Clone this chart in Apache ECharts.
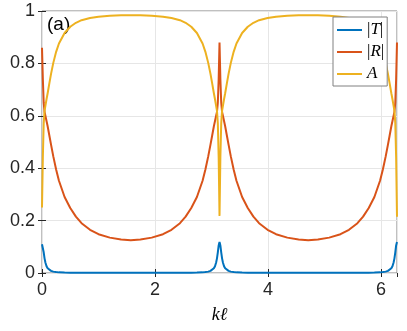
<!DOCTYPE html>
<html>
<head>
<meta charset="utf-8">
<script src="https://cdn.jsdelivr.net/npm/echarts@6/dist/echarts.min.js"></script>
<style>html,body{margin:0;padding:0;background:#fff;}#c{width:407px;height:331px;}</style>
</head>
<body>
<div id="c"></div>
<script>
// x values (kℓ)
const kl = [0,0.015,0.03,0.045,0.06,0.08,0.1,0.13,0.16,0.2,0.25,0.3,0.4,0.5,0.6,0.7,0.85,1.0,1.2,1.4,1.571,
1.742,1.942,2.142,2.292,2.442,2.542,2.642,2.742,2.842,2.892,2.942,2.982,3.012,3.042,3.062,3.082,3.097,3.112,3.127,3.142,
3.157,3.172,3.187,3.202,3.222,3.242,3.272,3.302,3.342,3.392,3.442,3.542,3.642,3.742,3.842,3.992,4.142,4.342,4.542,4.712,
4.883,5.083,5.283,5.433,5.583,5.683,5.783,5.883,5.983,6.033,6.083,6.123,6.153,6.183,6.203,6.223,6.238,6.253,6.268,6.283];

const absT = [0.11,0.105,0.079,0.056,0.040,0.026,0.018,0.0116,0.008,0.0052,0.0034,0.0024,0.0015,0.0011,0.0009,0.0008,0.0007,0.0006,0.0006,0.0005,0.0005,
0.0005,0.0006,0.0006,0.0007,0.0008,0.0009,0.0011,0.0015,0.0024,0.0034,0.0052,0.008,0.0116,0.018,0.026,0.040,0.056,0.079,0.105,0.118,
0.105,0.079,0.056,0.040,0.026,0.018,0.0116,0.008,0.0052,0.0034,0.0024,0.0015,0.0011,0.0009,0.0008,0.0007,0.0006,0.0006,0.0005,0.0005,
0.0005,0.0006,0.0006,0.0007,0.0008,0.0009,0.0011,0.0015,0.0024,0.0034,0.0052,0.008,0.0116,0.018,0.026,0.040,0.056,0.079,0.105,0.118];

const absR = [0.86,0.74,0.65,0.615,0.60,0.58,0.56,0.525,0.49,0.445,0.395,0.352,0.29,0.248,0.215,0.19,0.165,0.148,0.135,0.128,0.125,
0.128,0.135,0.148,0.165,0.19,0.215,0.248,0.29,0.352,0.395,0.445,0.49,0.525,0.56,0.58,0.60,0.615,0.65,0.74,0.88,
0.74,0.65,0.615,0.60,0.58,0.56,0.525,0.49,0.445,0.395,0.352,0.29,0.248,0.215,0.19,0.165,0.148,0.135,0.128,0.125,
0.128,0.135,0.148,0.165,0.19,0.215,0.248,0.29,0.352,0.395,0.445,0.49,0.525,0.56,0.58,0.60,0.615,0.65,0.74,0.88];

const absA = [0.25,0.441,0.571,0.619,0.638,0.663,0.686,0.724,0.760,0.802,0.844,0.876,0.916,0.940,0.955,0.965,0.973,0.978,0.982,0.984,0.984,
0.984,0.982,0.978,0.973,0.965,0.955,0.940,0.916,0.876,0.844,0.802,0.760,0.724,0.686,0.663,0.638,0.619,0.571,0.441,0.218,
0.441,0.571,0.619,0.638,0.663,0.686,0.724,0.760,0.802,0.844,0.876,0.916,0.940,0.955,0.965,0.973,0.978,0.982,0.984,0.984,
0.984,0.982,0.978,0.973,0.965,0.955,0.940,0.916,0.876,0.844,0.802,0.760,0.724,0.686,0.663,0.638,0.619,0.571,0.441,0.215];

const seriesNames = ['|T|','|R|','A'];
const seriesColors = ['#0072BD','#D95319','#EDB120'];
const seriesValues = [absT, absR, absA];

const chart = echarts.init(document.getElementById('c'), null, {renderer:'canvas'});
const labelFont = 'Liberation Sans, Arial, Helvetica, sans-serif';
const mathFont = 'Liberation Serif, DejaVu Serif, serif';
const axisColor = '#262626';
const frame = '#808080';

chart.setOption({
  animation:false,
  backgroundColor:'#fff',
  grid:{left:42,right:10,top:11,bottom:58,show:true,borderColor:frame,borderWidth:1,backgroundColor:'#fff'},
  legend:{
    data:seriesNames, orient:'vertical', left:333, top:17,
    icon:'rect', itemWidth:25, itemHeight:2, itemGap:4,
    padding:[4,3,3,4],
    backgroundColor:'#fff', borderColor:frame, borderWidth:1,
    formatter:function(n){ if(n==='A') return '{i|A}'; return '{u||}{i|'+n.charAt(1)+'}{u||}'; },
    textStyle:{fontSize:17, lineHeight:18, color:'#000', fontFamily:mathFont,
      rich:{i:{fontStyle:'italic',fontSize:17,fontFamily:mathFont,color:'#000'},
            u:{fontSize:17,fontFamily:mathFont,color:'#000'}}}
  },
  xAxis:[{
    type:'value', min:0, max:6.2832, interval:2,
    name:'kℓ', nameLocation:'middle', nameGap:33,
    nameTextStyle:{fontSize:18, fontStyle:'italic', fontFamily:mathFont, color:'#000'},
    axisLine:{show:false},
    axisTick:{inside:true,length:4,lineStyle:{color:axisColor}},
    axisLabel:{showMaxLabel:false, fontSize:18, color:axisColor, margin:8, fontFamily:labelFont},
    splitLine:{show:true,lineStyle:{color:'#e6e6e6',width:1}}
  },{
    type:'value', position:'top', min:0, max:6.2832, interval:2,
    axisLine:{show:false}, axisTick:{inside:true,length:4,lineStyle:{color:axisColor}},
    axisLabel:{show:false}, splitLine:{show:false}
  }],
  yAxis:[{
    type:'value', min:0, max:1, interval:0.2,
    axisLine:{show:false},
    axisTick:{inside:true,length:4,lineStyle:{color:axisColor}},
    axisLabel:{fontSize:18, color:axisColor, margin:7, fontFamily:labelFont},
    splitLine:{show:true,lineStyle:{color:'#e6e6e6',width:1}}
  },{
    type:'value', position:'right', min:0, max:1, interval:0.2,
    axisLine:{show:false}, axisTick:{inside:true,length:4,lineStyle:{color:axisColor}},
    axisLabel:{show:false}, splitLine:{show:false}
  }],
  graphic:[{type:'text', left:47, top:15, style:{text:'(a)', fontSize:19, fontFamily:labelFont, fill:'#000'}}],
  series: seriesNames.map(function(n,si){
    return {name:n, type:'line', xAxisIndex:0, yAxisIndex:0, showSymbol:false, symbol:'none',
      lineStyle:{width:2,color:seriesColors[si]}, itemStyle:{color:seriesColors[si]},
      data: kl.map(function(x,i){return [x, seriesValues[si][i]];})};
  })
});
</script>
</body>
</html>
